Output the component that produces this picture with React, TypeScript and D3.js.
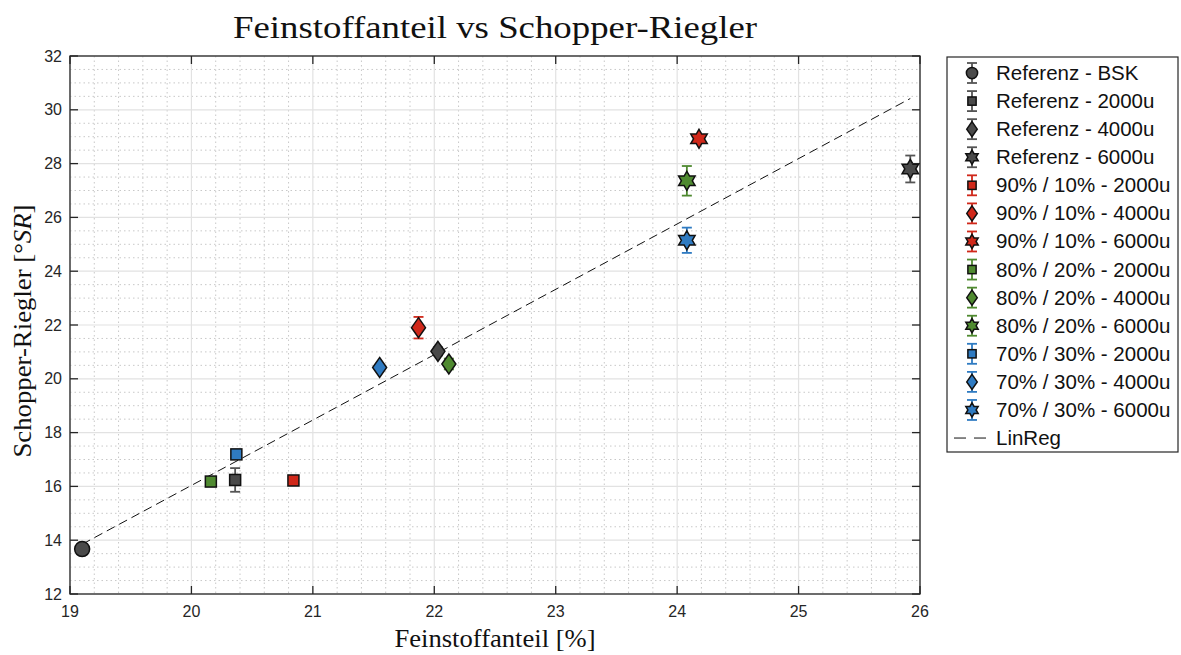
import * as d3 from 'd3';

const seriesNames = [
  'Referenz - BSK', 'Referenz - 2000u', 'Referenz - 4000u', 'Referenz - 6000u',
  '90% / 10% - 2000u', '90% / 10% - 4000u', '90% / 10% - 6000u',
  '80% / 20% - 2000u', '80% / 20% - 4000u', '80% / 20% - 6000u',
  '70% / 30% - 2000u', '70% / 30% - 4000u', '70% / 30% - 6000u',
];
const feinstoff = [19.1, 20.36, 22.03, 25.92, 20.84, 21.87, 24.18, 20.16, 22.12, 24.08, 20.37, 21.55, 24.08];
const schopper = [13.67, 16.24, 21.02, 27.8, 16.22, 21.9, 28.92, 16.18, 20.55, 27.36, 17.19, 20.42, 25.15];
const schopperErr = [0.2, 0.44, 0.15, 0.5, 0.15, 0.4, 0.1, 0.1, 0.2, 0.55, 0.1, 0.1, 0.47];
const markerKinds = ['circle', 'square', 'diamond', 'hexagram', 'square', 'diamond', 'hexagram',
  'square', 'diamond', 'hexagram', 'square', 'diamond', 'hexagram'];
const groupIdx = [0, 0, 0, 0, 1, 1, 1, 2, 2, 2, 3, 3, 3];
const groupColors = ['#555555', '#d0281a', '#4f8a30', '#2f7bc2'];
const markerFills = ['#4a4a4a', '#d0281a', '#4f8a30', '#2f7bc2'];

const linRegX = [19.1, 25.92];
const linRegY = [13.85, 30.42];

const xTicks = [19, 20, 21, 22, 23, 24, 25, 26];
const yTicks = [12, 14, 16, 18, 20, 22, 24, 26, 28, 30, 32];

const W = 1181;
const H = 655;
const L = 70, R = 920, T = 56, B = 594;

const x = d3.scaleLinear().domain([19, 26]).range([L, R]);
const y = d3.scaleLinear().domain([12, 32]).range([B, T]);

function hexagram(r: number) {
  const ri = r / Math.sqrt(3);
  const pts: [number, number][] = [];
  for (let i = 0; i < 12; i++) {
    const a = -Math.PI / 2 + (i * Math.PI) / 6;
    const rr = i % 2 === 0 ? r : ri;
    pts.push([rr * Math.cos(a), rr * Math.sin(a)]);
  }
  return d3.line()(pts) + 'Z';
}

function Marker({ kind, cx, cy, fill, scale = 1 }: { kind: string; cx: number; cy: number; fill: string; scale?: number }) {
  const common = { fill, stroke: '#111', strokeWidth: 1.5 };
  if (kind === 'circle') return <circle cx={cx} cy={cy} r={7.5 * scale} {...common} />;
  if (kind === 'square') {
    const s = 11 * scale;
    return <rect x={cx - s / 2} y={cy - s / 2} width={s} height={s} {...common} />;
  }
  if (kind === 'diamond') {
    const hw = 7 * scale, hh = 10 * scale;
    return <path d={`M${cx},${cy - hh}L${cx + hw},${cy}L${cx},${cy + hh}L${cx - hw},${cy}Z`} {...common} />;
  }
  return <path transform={`translate(${cx},${cy})`} d={hexagram(9.5 * scale)} {...common} />;
}

function ErrorBar({ cx, top, bottom, color }: { cx: number; top: number; bottom: number; color: string }) {
  const cw = 5;
  return (
    <g stroke={color} strokeWidth={1.8}>
      <line x1={cx} x2={cx} y1={top} y2={bottom} />
      <line x1={cx - cw} x2={cx + cw} y1={top} y2={top} />
      <line x1={cx - cw} x2={cx + cw} y1={bottom} y2={bottom} />
    </g>
  );
}

export default function App() {
  const xMinor = d3.range(19, 26.001, 0.2).filter((v) => Math.abs(v - Math.round(v)) > 1e-6);
  const yMinor = d3.range(12, 32.001, 0.5).filter((v) => Math.abs(v / 2 - Math.round(v / 2)) > 1e-6);
  const regLine = d3.line<number>().x((d) => x(d)).y((_, i) => y(linRegY[i]));

  const legX = 947, legY = 57, legW = 231, legH = 395;
  const rowH = 28.08;
  const sansFont = '"Liberation Sans", Arial, sans-serif';
  const serifFont = '"Liberation Serif", "DejaVu Serif", serif';

  return (
    <svg width={W} height={H} style={{ position: 'absolute', left: 0, top: 0, background: '#fff' }}>
      <rect width={W} height={H} fill="#fff" />
      {/* minor grid */}
      <g stroke="#c8c8c8" strokeWidth={1} strokeDasharray="1.5,3">
        {xMinor.map((v) => <line key={'xm' + v} x1={x(v)} x2={x(v)} y1={T} y2={B} />)}
        {yMinor.map((v) => <line key={'ym' + v} x1={L} x2={R} y1={y(v)} y2={y(v)} />)}
      </g>
      {/* major grid */}
      <g stroke="#e2e2e2" strokeWidth={1.2}>
        {xTicks.map((v) => <line key={'xg' + v} x1={x(v)} x2={x(v)} y1={T} y2={B} />)}
        {yTicks.map((v) => <line key={'yg' + v} x1={L} x2={R} y1={y(v)} y2={y(v)} />)}
      </g>
      {/* linreg */}
      <path d={regLine(linRegX) || ''} fill="none" stroke="#111" strokeWidth={1} strokeDasharray="9,5" />
      {/* data */}
      {seriesNames.map((name, i) => {
        const g = groupIdx[i];
        const cx = x(feinstoff[i]);
        const cy = y(schopper[i]);
        return (
          <g key={name}>
            <ErrorBar cx={cx} top={y(schopper[i] + schopperErr[i])} bottom={y(schopper[i] - schopperErr[i])} color={groupColors[g]} />
            <Marker kind={markerKinds[i]} cx={cx} cy={cy} fill={markerFills[g]} />
          </g>
        );
      })}
      {/* axes box */}
      <rect x={L} y={T} width={R - L} height={B - T} fill="none" stroke="#262626" strokeWidth={1.3} />
      <g stroke="#262626" strokeWidth={1.3}>
        {xTicks.map((v) => (
          <g key={'xt' + v}>
            <line x1={x(v)} x2={x(v)} y1={B} y2={B - 8} />
            <line x1={x(v)} x2={x(v)} y1={T} y2={T + 8} />
          </g>
        ))}
        {yTicks.map((v) => (
          <g key={'yt' + v}>
            <line x1={L} x2={L + 8} y1={y(v)} y2={y(v)} />
            <line x1={R} x2={R - 8} y1={y(v)} y2={y(v)} />
          </g>
        ))}
      </g>
      <g fontFamily={sansFont} fontSize={16} fill="#262626">
        {xTicks.map((v) => (
          <text key={'xl' + v} x={x(v)} y={B + 23} textAnchor="middle">{v}</text>
        ))}
        {yTicks.map((v) => (
          <text key={'yl' + v} x={L - 8} y={y(v) + 5.5} textAnchor="end">{v}</text>
        ))}
      </g>
      {/* titles */}
      <text x={(L + R) / 2} y={38} textAnchor="middle" fontFamily={serifFont} fontSize={32} fill="#111"
        textLength={524} lengthAdjust="spacingAndGlyphs">
        Feinstoffanteil vs Schopper-Riegler
      </text>
      <text x={(L + R) / 2} y={647} textAnchor="middle" fontFamily={serifFont} fontSize={25} fill="#111"
        textLength={201} lengthAdjust="spacingAndGlyphs">
        Feinstoffanteil [%]
      </text>
      <text transform={`translate(31,${331}) rotate(-90)`} textAnchor="middle" fontFamily={serifFont} fontSize={25} fill="#111"
        textLength={253} lengthAdjust="spacingAndGlyphs">
        Schopper-Riegler [°<tspan fontStyle="italic">SR</tspan>]
      </text>
      {/* legend */}
      <rect x={legX} y={legY} width={legW} height={legH} fill="#fff" stroke="#262626" strokeWidth={1.2} />
      {seriesNames.map((name, i) => {
        const g = groupIdx[i];
        const cy = legY + 16 + i * rowH;
        const cx = legX + 25;
        return (
          <g key={'leg' + name}>
            <ErrorBar cx={cx} top={cy - 10} bottom={cy + 10} color={groupColors[g]} />
            <Marker kind={markerKinds[i]} cx={cx} cy={cy} fill={markerFills[g]} scale={0.75} />
            <text x={legX + 49} y={cy + 7} fontFamily={sansFont} fontSize={20.5} fill="#111">{name}</text>
          </g>
        );
      })}
      <g>
        <line x1={legX + 7} x2={legX + 43} y1={legY + 16 + 13 * rowH} y2={legY + 16 + 13 * rowH} stroke="#111" strokeWidth={1} strokeDasharray="12,8" />
        <text x={legX + 49} y={legY + 16 + 13 * rowH + 7} fontFamily={sansFont} fontSize={20.5} fill="#111">LinReg</text>
      </g>
    </svg>
  );
}
